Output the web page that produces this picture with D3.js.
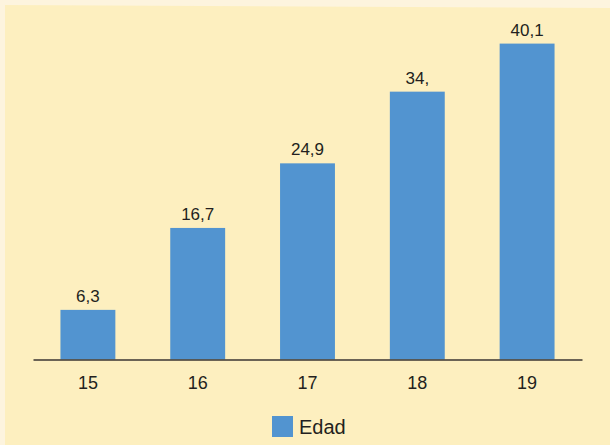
<!DOCTYPE html>
<html>
<head>
<meta charset="utf-8">
<script src="https://cdn.jsdelivr.net/npm/d3@7"></script>
<style>
  html, body { margin: 0; padding: 0; background: #fdf4de; }
  svg { display: block; }
</style>
</head>
<body>
<svg id="chart"></svg>
<script>
// chart data
const categories = ["15", "16", "17", "18", "19"];
const values = [6.3, 16.7, 24.9, 34.0, 40.1];
const valueLabels = ["6,3", "16,7", "24,9", "34,", "40,1"];
const seriesName = "Edad";

const width = 610, height = 445;
const barColor = "#5294d0";
const textColor = "#231f20";

const svg = d3.select("#chart").attr("width", width).attr("height", height);

// panel background, lighter strip on top and left edge
svg.append("rect").attr("width", width).attr("height", height).attr("fill", "#fdf4de");
svg.append("path")
  .attr("d", "M5,5 L610,8 L610,445 L5,445 Z")
  .attr("fill", "#fdefbf");

const x = d3.scaleBand()
  .domain(categories)
  .range([33, 582])
  .paddingInner(0.5)
  .paddingOuter(0.25);

const y = d3.scaleLinear()
  .domain([0, 45])
  .range([359.5, 5]);

// bars
svg.append("g")
  .selectAll("rect")
  .data(values)
  .enter()
  .append("rect")
  .attr("x", (d, i) => x(categories[i]))
  .attr("y", d => y(d))
  .attr("width", x.bandwidth())
  .attr("height", d => y(0) - y(d))
  .attr("fill", barColor);

// value labels
svg.append("g")
  .selectAll("text")
  .data(values)
  .enter()
  .append("text")
  .attr("x", (d, i) => x(categories[i]) + x.bandwidth() / 2)
  .attr("y", d => y(d) - 8)
  .attr("text-anchor", "middle")
  .style("font-family", "Liberation Sans, Arial, sans-serif")
  .style("font-size", "17px")
  .style("fill", textColor)
  .text((d, i) => valueLabels[i]);

// x axis
const xAxis = svg.append("g")
  .attr("transform", "translate(0," + y(0) + ")")
  .call(d3.axisBottom(x).tickSize(0).tickPadding(17));
xAxis.select(".domain")
  .attr("stroke", "#3a3532")
  .attr("stroke-width", 1.5);
xAxis.selectAll("text")
  .style("font-family", "Liberation Sans, Arial, sans-serif")
  .style("font-size", "18px")
  .style("fill", textColor);

// legend
const legend = svg.append("g").attr("transform", "translate(272,416)");
legend.append("rect")
  .attr("width", 21)
  .attr("height", 21)
  .attr("fill", barColor);
legend.append("text")
  .attr("x", 27)
  .attr("y", 18)
  .style("font-family", "Liberation Sans, Arial, sans-serif")
  .style("font-size", "20px")
  .style("fill", textColor)
  .text(seriesName);
</script>
</body>
</html>
